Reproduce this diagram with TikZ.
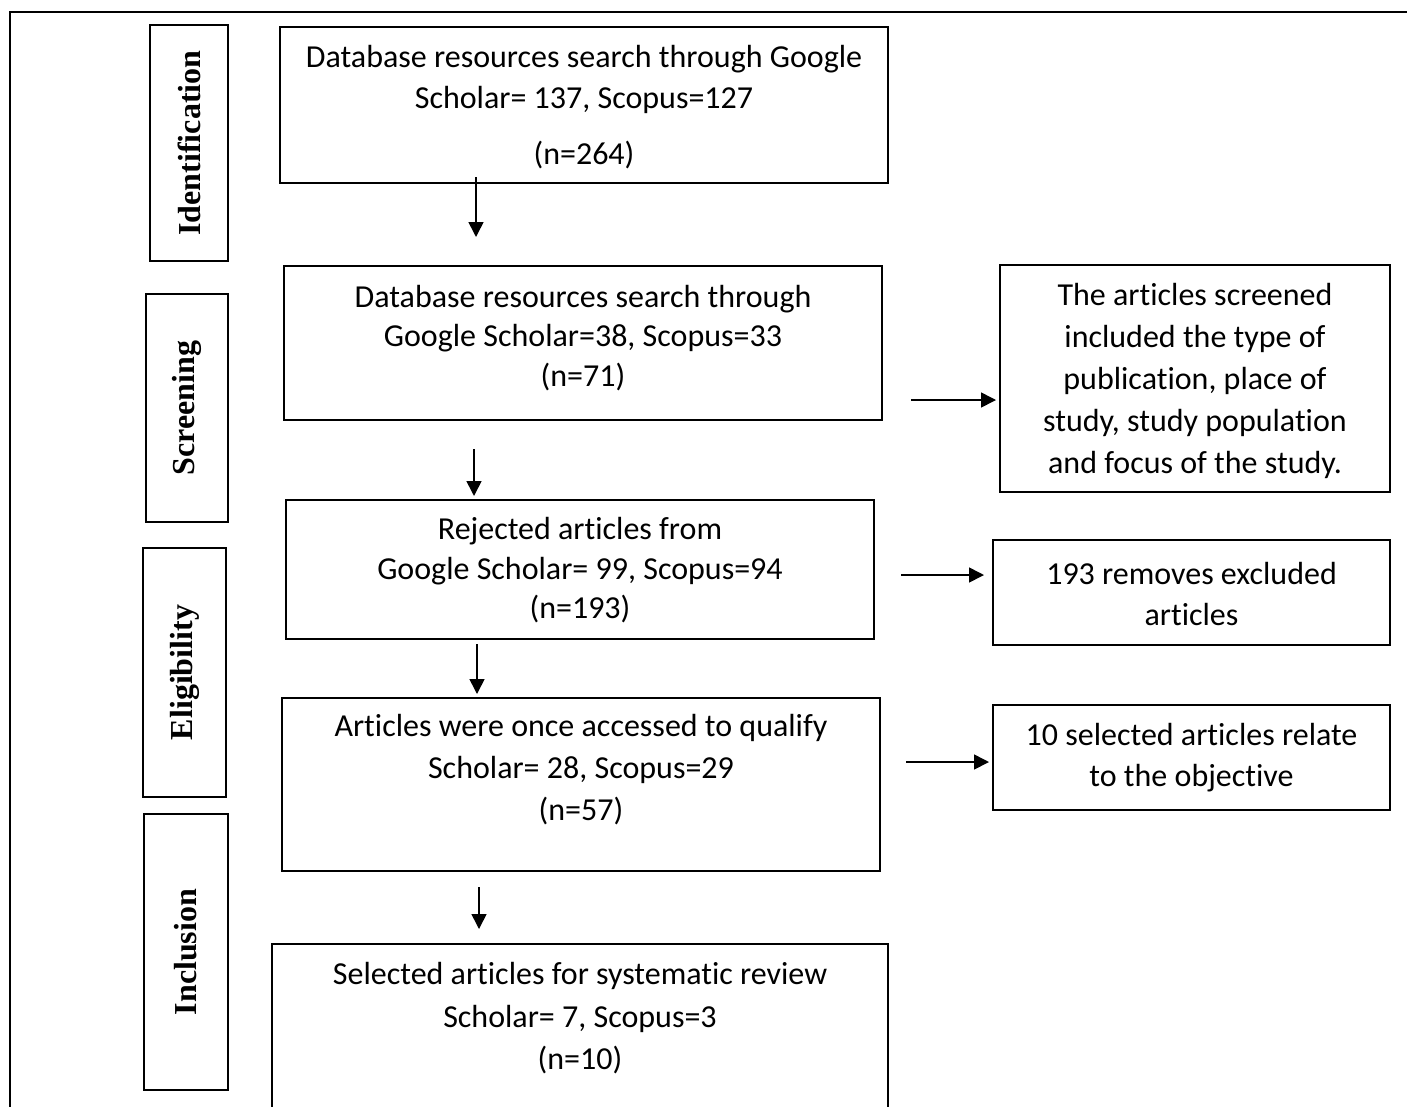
\documentclass[tikz,border=0pt]{standalone}
\usepackage{fontspec}
\setmainfont{Carlito}[Ligatures=CommonOff]
\newfontfamily\labelfont{Liberation Serif}
\usetikzlibrary{arrows.meta}
\tikzset{
  box/.style={draw=black, line width=2pt, inner sep=0pt, fill=none},
  txt/.style={align=center, inner sep=0pt, font=\fontsize{32}{41}\selectfont},
  phase/.style={draw=black, line width=2pt, inner sep=0pt},
  phasetxt/.style={rotate=90, inner sep=0pt, font=\labelfont\bfseries\fontsize{32}{38}\selectfont},
  arr/.style={line width=1.6pt, -{Triangle[length=15pt,width=15pt]}}
}
\begin{document}
\begin{tikzpicture}[x=1pt,y=-1pt]
\useasboundingbox (0,0) rectangle (1407,1106);
\clip (0,0) rectangle (1407,1106);
% outer frame
\draw[line width=2pt] (1420,12) -- (10,12) -- (10,1130);
% phase boxes
\node[phase, minimum width=78pt, minimum height=236pt] (pid) at (189,143) {};
\node[phasetxt] (tid) at (pid.center) {Identification};
\node[phase, minimum width=82pt, minimum height=228pt] (psc) at (187,408) {};
\node[phasetxt] (tsc) at (psc.center) {Screening};
\node[phase, minimum width=83pt, minimum height=249pt] (pel) at (184.5,672.5) {};
\node[phasetxt] (tel) at (pel.center) {Eligibility};
\node[phase, minimum width=84pt, minimum height=276pt] (pin) at (186,952) {};
\node[phasetxt] (tin) at (pin.center) {Inclusion};
% main boxes
\node[box, minimum width=608pt, minimum height=156pt] (b1) at (584,105) {};
\node[txt] (t1) at (584,107) {Database resources search through Google\\Scholar= 137, Scopus=127\\[15pt](n=264)};
\node[box, minimum width=598pt, minimum height=154pt] (b2) at (583,343) {};
\node[txt, font=\fontsize{32}{39.5}\selectfont] (t2) at (583,338) {Database resources search through\\Google Scholar=38, Scopus=33\\(n=71)};
\node[box, minimum width=588pt, minimum height=139pt] (b3) at (580,569.5) {};
\node[txt, font=\fontsize{32}{39.5}\selectfont] (t3) at (580,570.5) {Rejected articles from\\Google Scholar= 99, Scopus=94\\(n=193)};
\node[box, minimum width=598pt, minimum height=173pt] (b4) at (581,784.5) {};
\node[txt, font=\fontsize{32}{42}\selectfont] (t4) at (581,770) {Articles were once accessed to qualify\\Scholar= 28, Scopus=29\\(n=57)};
\node[box, minimum width=616pt, minimum height=220pt] (b5) at (580,1054) {};
\node[txt, font=\fontsize{32}{42.5}\selectfont] (t5) at (580,1018.5) {Selected articles for systematic review\\Scholar= 7, Scopus=3\\(n=10)};
% right boxes
\node[box, minimum width=390pt, minimum height=227pt] (r1) at (1195,378.5) {};
\node[txt, font=\fontsize{32}{42}\selectfont] (s1) at (1195,381) {The articles screened\\included the type of\\publication, place of\\study, study population\\and focus of the study.};
\node[box, minimum width=397pt, minimum height=105pt] (r2) at (1191.5,592.5) {};
\node[txt] (s2) at (1191.5,593.5) {193 removes excluded\\articles};
\node[box, minimum width=397pt, minimum height=105pt] (r3) at (1191.5,757.5) {};
\node[txt] (s3) at (1191.5,757.5) {10 selected articles relate\\to the objective};
% vertical arrows
\draw[arr, shorten <=-7pt, shorten >=28pt] (b1.south -| 476,0) -- (b2.north -| 476,0);
\draw[arr, shorten <=28pt, shorten >=3pt] (b2.south -| 474,0) -- (b3.north -| 474,0);
\draw[arr, shorten <=4pt, shorten >=3pt] (b3.south -| 477,0) -- (b4.north -| 477,0);
\draw[arr, shorten <=15pt, shorten >=14pt] (b4.south -| 479,0) -- (b5.north -| 479,0);
% horizontal arrows
\draw[arr, shorten <=28pt, shorten >=3pt] (b2.east |- 0,400) -- (r1.west |- 0,400);
\draw[arr, shorten <=26pt, shorten >=8pt] (b3.east |- 0,575) -- (r2.west |- 0,575);
\draw[arr, shorten <=25pt, shorten >=3pt] (b4.east |- 0,762) -- (r3.west |- 0,762);
\end{tikzpicture}
\end{document}
